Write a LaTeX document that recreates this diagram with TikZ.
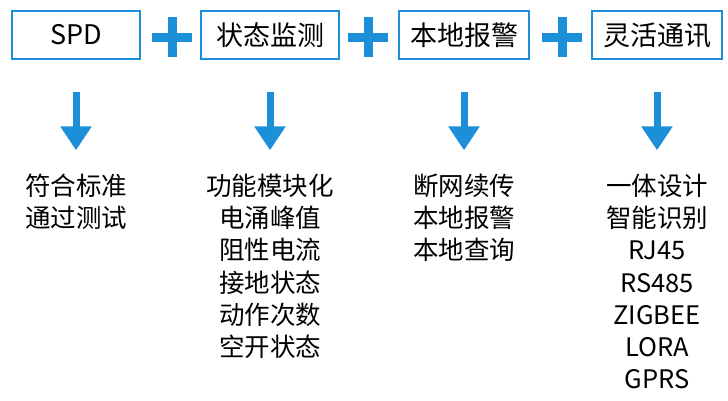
\documentclass[tikz,border=0pt]{standalone}
\usepackage{fontspec}
\setmainfont{Noto Sans CJK SC}
\usetikzlibrary{positioning, arrows.meta}
\definecolor{spdblue}{HTML}{1B8FD8}

\begin{document}
\begin{tikzpicture}[x=1pt,y=-1pt,
    topbox/.style={draw=spdblue, line width=2.5pt, minimum height=48pt, inner sep=0pt, font=\fontsize{27}{27}\selectfont},
    downarrow/.style={spdblue, line width=7pt, -{Triangle[width=30pt,length=24pt]}},
    plussign/.style={spdblue, line width=9pt},
    infotext/.style={align=center, font=\fontsize{25.5}{32.3}\selectfont, anchor=north}]
  \useasboundingbox (0,0) rectangle (728,400);

  % boxes
  \node[topbox, minimum width=128pt] (spd) at (76,35) {SPD};
  \node[topbox, minimum width=138pt] (monitor) at (270,35) {状态监测};
  \node[topbox, minimum width=130pt] (alarm) at (464,35) {本地报警};
  \node[topbox, minimum width=130pt] (comm) at (657,35) {灵活通讯};

  % plus signs
  \foreach \px in {172,368,562}
    \draw[plussign] (\px-20,37) -- (\px+20,37) (\px,17) -- (\px,57);

  % arrows and texts
  \foreach \n/\txt in {spd/{符合标准\\通过测试},
                       monitor/{功能模块化\\电涌峰值\\阻性电流\\接地状态\\动作次数\\空开状态},
                       alarm/{断网续传\\本地报警\\本地查询},
                       comm/{一体设计\\智能识别\\RJ45\\RS485\\ZIGBEE\\LORA\\GPRS}} {
    \coordinate (\n top) at ([yshift=-32pt]\n.south);
    \coordinate (\n tip) at ([yshift=-90pt]\n.south);
    \draw[downarrow] (\n top) -- (\n tip);
    \node[infotext, below=20pt of \n tip] (\n info) {\txt};
  }
\end{tikzpicture}
\end{document}
